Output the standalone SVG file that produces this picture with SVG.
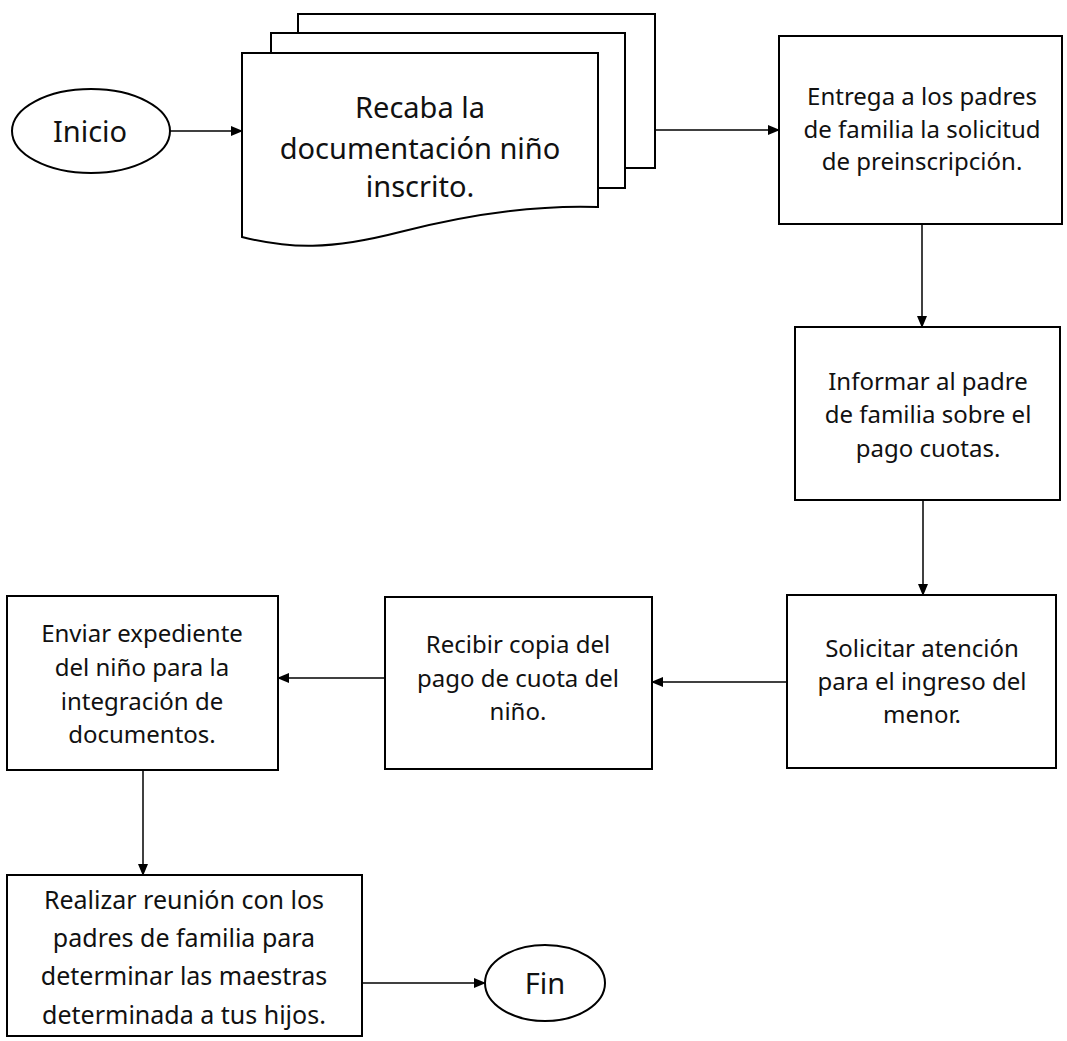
<svg xmlns="http://www.w3.org/2000/svg" width="1067" height="1041" viewBox="0 0 1067 1041">
<style>
.shape{fill:#fff;stroke:#000;stroke-width:2}
.conn{fill:none;stroke:#000;stroke-width:1.5}
text{font-family:"Noto Sans","Open Sans",sans-serif;fill:#111;text-anchor:middle}
.big{font-size:29px}
.t{font-size:24px}
.t2{font-size:25px}
</style>
<defs>
<marker id="ah" markerUnits="userSpaceOnUse" markerWidth="12" markerHeight="10" refX="11" refY="5" orient="auto">
<path d="M0,0 L12,5 L0,10 Z" fill="#000"/>
</marker>
</defs>
<rect width="1067" height="1041" fill="#fff"/>
<g id="inicio">
<ellipse class="shape" cx="91" cy="131" rx="79" ry="42"/>
<text class="big" x="90" y="142">Inicio</text>
</g>
<g id="recaba">
<rect class="shape" x="298" y="14" width="357" height="154"/>
<rect class="shape" x="271" y="33" width="354" height="155"/>
<path class="shape" d="M242,53 H598 V207 C540,205 470,214 400,232 C330,250 290,249 242,237 Z"/>
<text class="big" x="420" y="118">Recaba la</text>
<text class="big" x="420" y="159">documentación niño</text>
<text class="big" x="420" y="197">inscrito.</text>
</g>
<g id="entrega">
<rect class="shape" x="779" y="36" width="283" height="188"/>
<text class="t" x="922" y="105">Entrega a los padres</text>
<text class="t" x="922" y="138">de familia la solicitud</text>
<text class="t" x="922" y="170">de preinscripción.</text>
</g>
<g id="informar">
<rect class="shape" x="795" y="327" width="265" height="173"/>
<text class="t" x="928" y="390">Informar al padre</text>
<text class="t" x="928" y="423">de familia sobre el</text>
<text class="t" x="928" y="457">pago cuotas.</text>
</g>
<g id="solicitar">
<rect class="shape" x="787" y="595" width="269" height="173"/>
<text class="t" x="922" y="657">Solicitar atención</text>
<text class="t" x="922" y="690">para el ingreso del</text>
<text class="t" x="922" y="723">menor.</text>
</g>
<g id="recibir">
<rect class="shape" x="385" y="597" width="267" height="172"/>
<text class="t" x="518" y="653">Recibir copia del</text>
<text class="t" x="518" y="687">pago de cuota del</text>
<text class="t" x="518" y="720">niño.</text>
</g>
<g id="enviar">
<rect class="shape" x="7" y="596" width="271" height="174"/>
<text class="t" x="142" y="642">Enviar expediente</text>
<text class="t" x="142" y="676">del niño para la</text>
<text class="t" x="142" y="710">integración de</text>
<text class="t" x="142" y="743">documentos.</text>
</g>
<g id="realizar">
<rect class="shape" x="7" y="875" width="355" height="161"/>
<text class="t2" x="184" y="909">Realizar reunión con los</text>
<text class="t2" x="184" y="947">padres de familia para</text>
<text class="t2" x="184" y="985">determinar las maestras</text>
<text class="t2" x="184" y="1024">determinada a tus hijos.</text>
</g>
<g id="fin">
<ellipse class="shape" cx="545" cy="983" rx="60" ry="38"/>
<text class="big" x="545" y="994">Fin</text>
</g>
<g id="connectors">
<line class="conn" x1="170" y1="131" x2="242" y2="131" marker-end="url(#ah)"/>
<line class="conn" x1="655" y1="130" x2="779" y2="130" marker-end="url(#ah)"/>
<line class="conn" x1="922" y1="224" x2="922" y2="327" marker-end="url(#ah)"/>
<line class="conn" x1="923" y1="500" x2="923" y2="595" marker-end="url(#ah)"/>
<line class="conn" x1="787" y1="682" x2="652" y2="682" marker-end="url(#ah)"/>
<line class="conn" x1="385" y1="678" x2="278" y2="678" marker-end="url(#ah)"/>
<line class="conn" x1="143" y1="770" x2="143" y2="875" marker-end="url(#ah)"/>
<line class="conn" x1="362" y1="983" x2="485" y2="983" marker-end="url(#ah)"/>
</g>
</svg>
